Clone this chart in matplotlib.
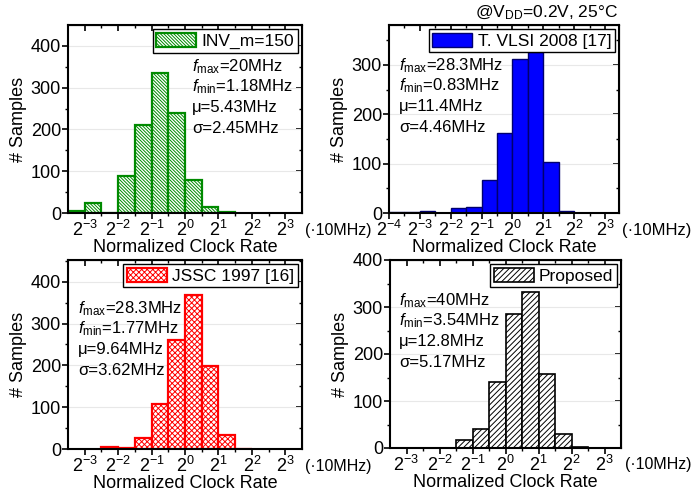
#!/usr/bin/env python3
# -*- coding: utf-8 -*-
"""Four log2 histograms of normalized clock rate (@VDD=0.2V, 25C)."""

import numpy as np
import matplotlib
matplotlib.use("Agg")
import matplotlib.pyplot as plt
from matplotlib.ticker import FixedLocator, NullFormatter

plt.rcParams["font.family"] = ["Liberation Sans", "DejaVu Sans"]
plt.rcParams["mathtext.fontset"] = "custom"
plt.rcParams["mathtext.rm"] = "Liberation Sans"
plt.rcParams["mathtext.it"] = "Liberation Sans:italic"
plt.rcParams["mathtext.bf"] = "Liberation Sans:bold"
plt.rcParams["hatch.linewidth"] = 0.7

W, H = 693, 493

# bins are half an octave wide; *_start is log2 of the first left edge
inv_start = -3.5
inv_counts = [5, 24, 1, 88, 211, 335, 240, 78, 15, 3]
inv_stats = [r"$f_{\mathrm{max}}$=20MHz", r"$f_{\mathrm{min}}$=1.18MHz",
             "\u03bc=5.43MHz", "\u03c3=2.45MHz"]

vlsi_start = -4.0
vlsi_counts = [2, 3, 4, 0, 10, 13, 66, 163, 312, 326, 104, 5]
vlsi_stats = [r"$f_{\mathrm{max}}$=28.3MHz", r"$f_{\mathrm{min}}$=0.83MHz",
              "\u03bc=11.4MHz", "\u03c3=4.46MHz"]

jssc_start = -2.5
jssc_counts = [4, 3, 27, 107, 261, 368, 198, 33, 1]
jssc_stats = [r"$f_{\mathrm{max}}$=28.3MHz", r"$f_{\mathrm{min}}$=1.77MHz",
              "\u03bc=9.64MHz", "\u03c3=3.62MHz"]

prop_start = -1.5
prop_counts = [16, 40, 140, 285, 331, 158, 30, 2]
prop_stats = [r"$f_{\mathrm{max}}$=40MHz", r"$f_{\mathrm{min}}$=3.54MHz",
              "\u03bc=12.8MHz", "\u03c3=5.17MHz"]


def px_box(x0, y0, x1, y1):
    return [x0 / W, 1 - y1 / H, (x1 - x0) / W, (y1 - y0) / H]


def draw_panel(fig, box, start, counts, style, label, stats, text_xy,
               unit_x, unit_ha, unit_fs, tick_lo, xlim, ylim, yticks):
    ax = fig.add_axes(px_box(*box))
    counts = np.asarray(counts, dtype=float)
    exps = start + 0.5 * np.arange(len(counts))
    left = 2.0 ** exps
    width = 2.0 ** (exps + 0.5) - left
    keep = counts > 0
    ax.bar(left[keep], counts[keep], width=width[keep], align="edge",
           label=label, zorder=2, **style)

    ax.set_xscale("log", base=2)
    ax.set_xlim(2.0 ** xlim[0], 2.0 ** xlim[1])
    ax.set_ylim(*ylim)
    major = np.arange(tick_lo, 4)
    xminor = 2.0 ** (major[:-1] + 0.5)
    yminor = np.arange(50, ylim[1], 100)
    ax.set_xticks(2.0 ** major, [rf"$2^{{{e}}}$" for e in major])
    ax.xaxis.set_minor_locator(FixedLocator(xminor))
    ax.xaxis.set_minor_formatter(NullFormatter())
    ax.set_yticks(yticks)
    ax.yaxis.set_minor_locator(FixedLocator(yminor))
    ax.tick_params(which="major", direction="out", length=4, width=1.2,
                   labelsize=13, pad=1)
    ax.tick_params(which="minor", direction="out", length=2.5, width=1.0)
    ax.yaxis.grid(True, color="#e8e8e8", linewidth=0.8)
    ax.set_axisbelow(True)
    for sp in ax.spines.values():
        sp.set_linewidth(1.5)

    # inward ticks on top and right
    top = ax.secondary_xaxis("top")
    top.set_xticks(2.0 ** major)
    top.xaxis.set_minor_locator(FixedLocator(xminor))
    top.xaxis.set_major_formatter(NullFormatter())
    top.xaxis.set_minor_formatter(NullFormatter())
    top.tick_params(which="major", direction="in", length=4, width=1.2)
    top.tick_params(which="minor", direction="in", length=2.5, width=1.0)
    right = ax.secondary_yaxis("right")
    right.set_yticks(yticks)
    right.yaxis.set_minor_locator(FixedLocator(yminor))
    right.yaxis.set_major_formatter(NullFormatter())
    right.yaxis.set_minor_formatter(NullFormatter())
    right.tick_params(which="major", direction="in", length=4, width=1.2)
    right.tick_params(which="minor", direction="in", length=2.5, width=1.0)

    ax.set_xlabel("Normalized Clock Rate", fontsize=13, labelpad=-1)
    ax.set_ylabel("# Samples", fontsize=13, labelpad=3)
    fig.text(unit_x / W, 1 - (box[3] + 17) / H, "(\u00b710MHz)",
             fontsize=unit_fs, ha=unit_ha, va="center")

    leg = ax.legend(loc="upper right", fontsize=12.5, handlelength=2.3,
                    handleheight=0.9, handletextpad=0.3, borderpad=0.2,
                    borderaxespad=0.25, fancybox=False, framealpha=1,
                    edgecolor="black")
    leg.get_frame().set_linewidth(1.0)

    tx, ty = text_xy
    for i, s in enumerate(stats):
        fig.text(tx / W, 1 - (ty + 20.6 * i) / H, s, fontsize=12,
                 ha="left", va="baseline")
    return ax


def main() -> None:
    fig = plt.figure(figsize=(W / 100, H / 100), dpi=100)

    green = dict(facecolor="white", edgecolor="#008a00",
                 hatch="\\" * 10, linewidth=1.6)
    blue = dict(facecolor="#0000ff", edgecolor="#00006e", linewidth=1.0)
    red = dict(facecolor="white", edgecolor="#ff0000", hatch="x" * 6,
               linewidth=1.6)
    black = dict(facecolor="white", edgecolor="black", hatch="/" * 6,
                 linewidth=1.2)

    draw_panel(fig, (68, 25, 302, 213), inv_start, inv_counts, green,
               "INV_m=150", inv_stats, (192, 71), 305, "left", 11.5, -3,
               (-3.5, 3.5), (0, 450), [0, 100, 200, 300, 400])
    draw_panel(fig, (389, 25, 619, 213), vlsi_start, vlsi_counts, blue,
               "T. VLSI 2008 [17]", vlsi_stats, (399, 70), 691, "right", 12,
               -4, (-3.96, 3.45), (0, 381), [0, 100, 200, 300])
    draw_panel(fig, (68, 260, 302, 449), jssc_start, jssc_counts, red,
               "JSSC 1997 [16]", jssc_stats, (78, 313), 305, "left", 11.5,
               -3, (-3.5, 3.5), (0, 452), [0, 100, 200, 300, 400])
    draw_panel(fig, (390, 260, 621, 448), prop_start, prop_counts, black,
               "Proposed", prop_stats, (399, 305), 691, "right", 11.5, -3,
               (-3.5, 3.5), (0, 400), [0, 100, 200, 300, 400])

    fig.text(547 / W, 1 - 13 / H, r"@V$_{\mathrm{DD}}$=0.2V, 25°C",
             fontsize=12.5, ha="center", va="center")

    fig.savefig("out.png", dpi=100)
    plt.close(fig)


if __name__ == "__main__":
    main()
